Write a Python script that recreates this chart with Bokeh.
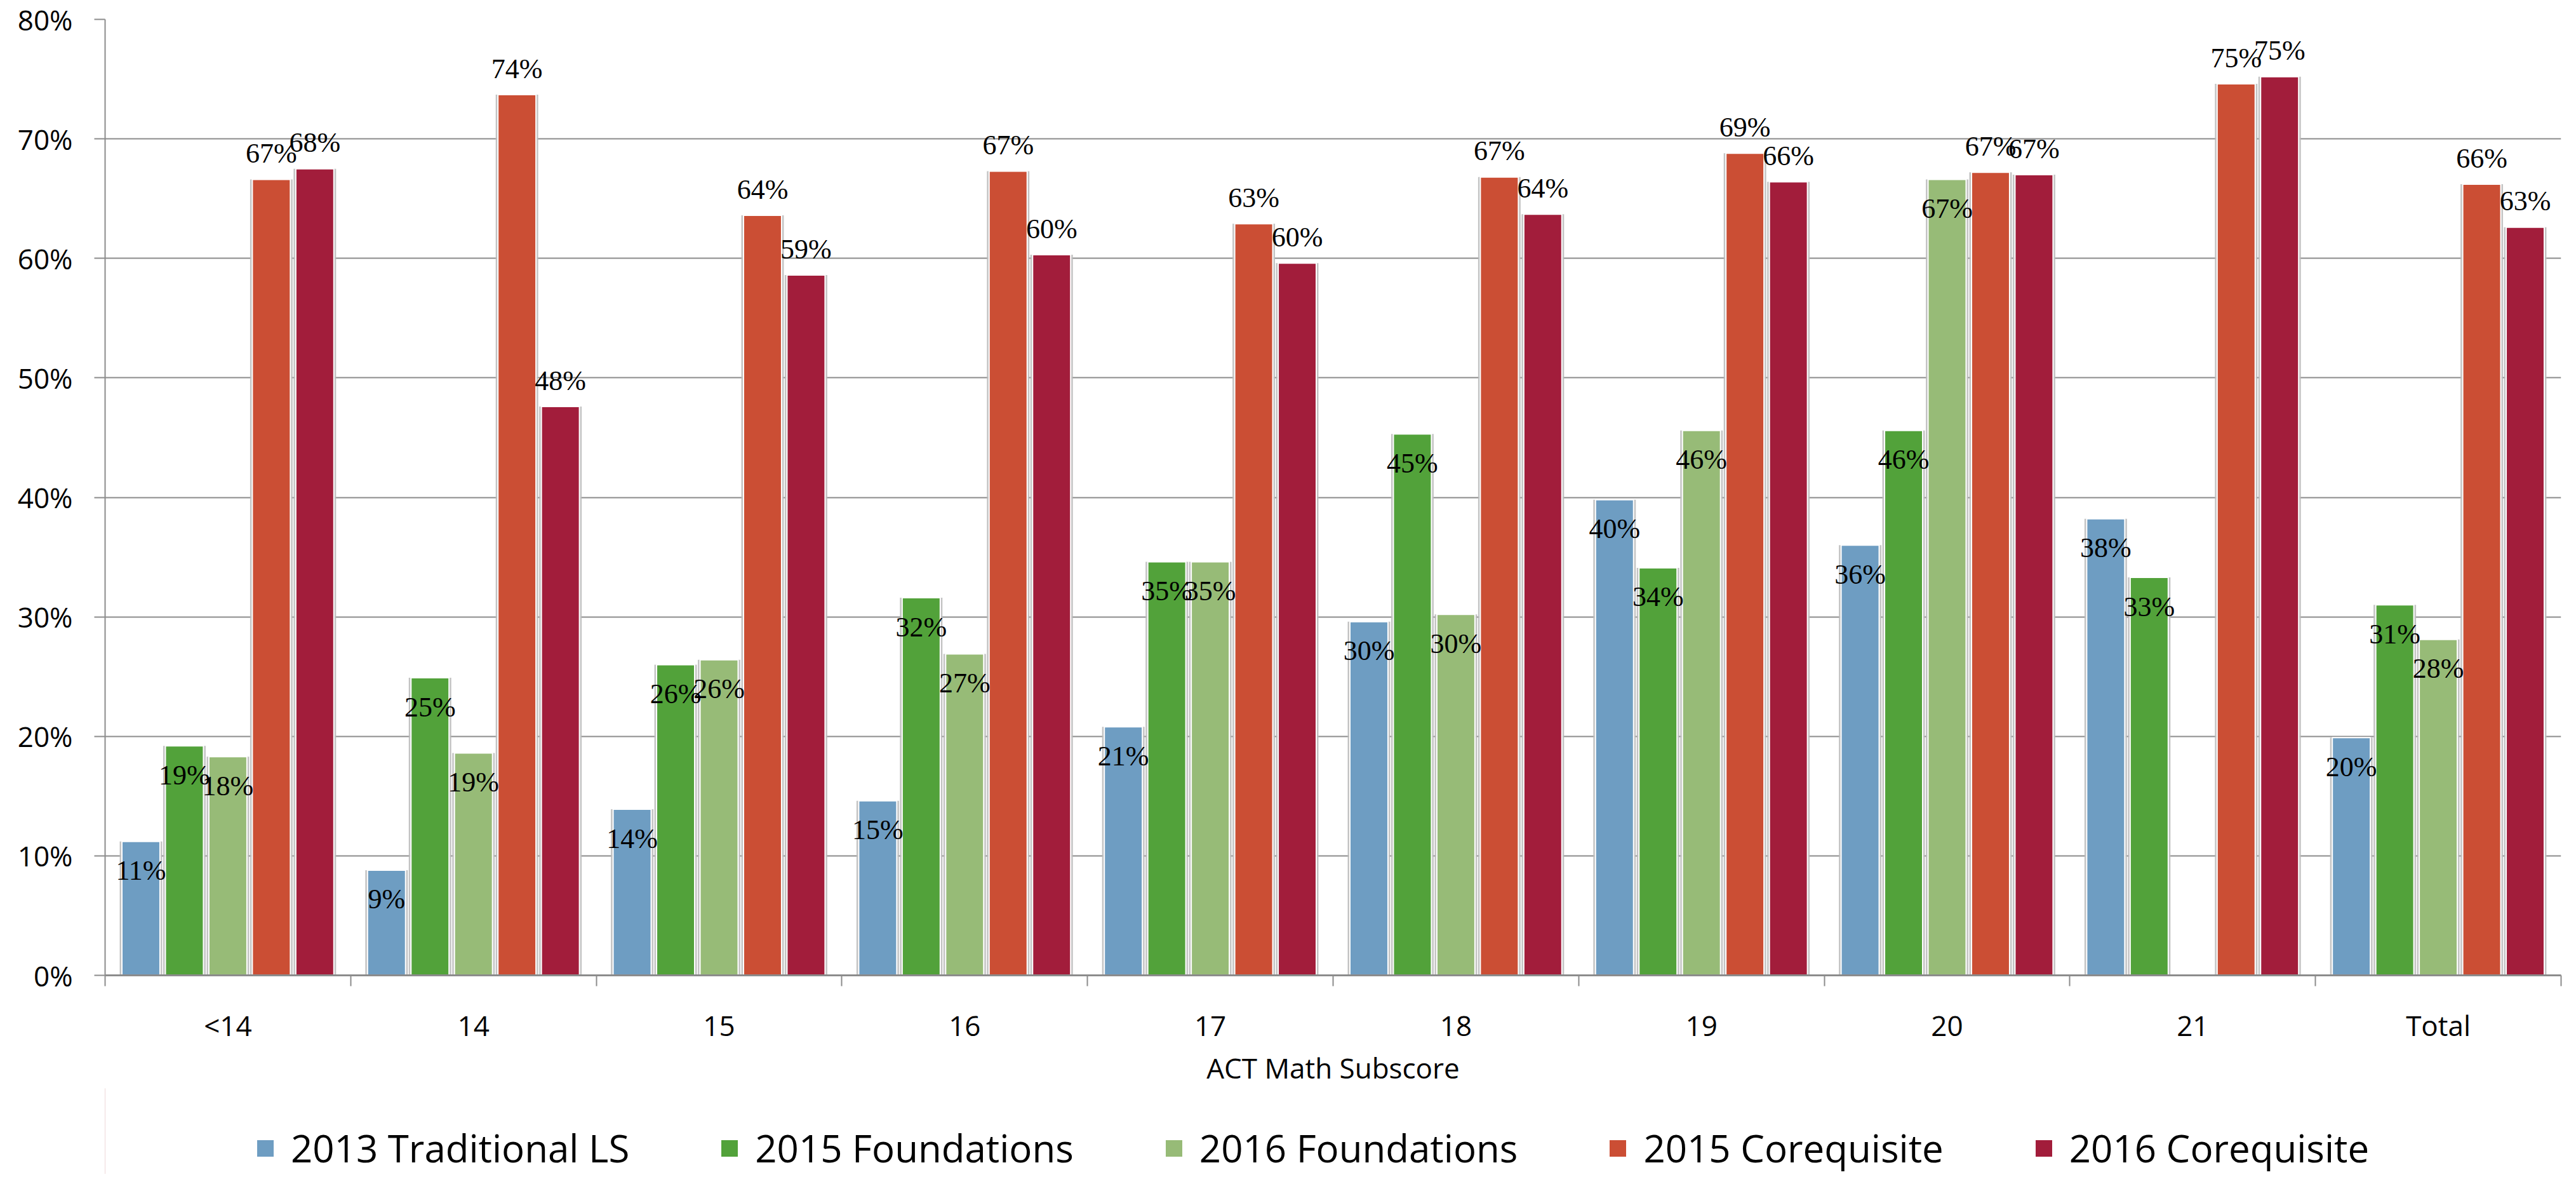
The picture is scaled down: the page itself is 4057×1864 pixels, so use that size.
from bokeh.plotting import figure
from bokeh.layouts import column
from bokeh.models import (ColumnDataSource, Range1d, FixedTicker, Legend,
                          LegendItem, LabelSet)
from bokeh.embed import file_html
from bokeh.resources import INLINE

# ---------------- data ----------------
categories = ["<14", "14", "15", "16", "17", "18", "19", "20", "21", "Total"]

trad_2013 = [11.2, 8.8, 13.9, 14.6, 20.8, 29.6, 39.8, 36.0, 38.2, 19.9]
found_2015 = [19.2, 24.9, 26.0, 31.6, 34.6, 45.3, 34.1, 45.6, 33.3, 31.0]
found_2016 = [18.3, 18.6, 26.4, 26.9, 34.6, 30.2, 45.6, 66.6, None, 28.1]
coreq_2015 = [66.6, 73.7, 63.6, 67.3, 62.9, 66.8, 68.8, 67.2, 74.6, 66.2]
coreq_2016 = [67.5, 47.6, 58.6, 60.3, 59.6, 63.7, 66.4, 67.0, 75.2, 62.6]

series_names = ["2013 Traditional LS", "2015 Foundations", "2016 Foundations",
                "2015 Corequisite", "2016 Corequisite"]
series_values = [trad_2013, found_2015, found_2016, coreq_2015, coreq_2016]

y_ticks = [0, 10, 20, 30, 40, 50, 60, 70, 80]

# ---------------- style ----------------
colors = ["#6e9dc2", "#52a23a", "#97bb77", "#cb4e34", "#a21d3b"]
FONT = "Open Sans"
GRID = "#8c8c8c"
pitch = 0.177        # distance between bar centres (category units)
bar_w = 0.155        # bar width (category units)
label_off = [-46, -46, -46, 41, 41]   # label offsets (px)

W = 4040
H_LEG = 135
H_MAIN = 1848 - H_LEG

p = figure(width=W, height=H_MAIN, output_backend="svg", toolbar_location=None,
           x_range=Range1d(0, len(categories)), y_range=Range1d(0, 80),
           min_border_left=165, min_border_right=7, min_border_top=30,
           min_border_bottom=H_MAIN - 1537)
p.outline_line_color = None
p.background_fill_color = "white"
p.border_fill_color = "white"

# axes
centers = [i + 0.5 for i in range(len(categories))]
bounds = [float(i) for i in range(len(categories) + 1)]
p.xaxis.ticker = FixedTicker(ticks=centers, minor_ticks=bounds)
p.xaxis.major_label_overrides = {c: lab for c, lab in zip(centers, categories)}
p.xaxis.major_tick_out = 0
p.xaxis.major_tick_in = 0
p.xaxis.minor_tick_out = 17
p.xaxis.minor_tick_in = 0
p.xaxis.minor_tick_line_color = GRID
p.xaxis.minor_tick_line_width = 2
p.xaxis.axis_line_color = GRID
p.xaxis.axis_line_width = 3
p.xaxis.major_label_standoff = 31
p.xaxis.major_label_text_font = FONT
p.xaxis.major_label_text_font_size = "44px"
p.xaxis.major_label_text_color = "black"
p.xaxis.axis_label = "ACT Math Subscore"
p.xaxis.axis_label_text_font = FONT
p.xaxis.axis_label_text_font_size = "44px"
p.xaxis.axis_label_text_font_style = "normal"
p.xaxis.axis_label_text_color = "black"
p.xaxis.axis_label_standoff = 4

p.yaxis.ticker = FixedTicker(ticks=y_ticks, minor_ticks=[])
p.yaxis.major_label_overrides = {t: f"{t}%" for t in y_ticks}
p.yaxis.major_tick_out = 17
p.yaxis.major_tick_in = 0
p.yaxis.major_tick_line_color = GRID
p.yaxis.major_tick_line_width = 2
p.yaxis.axis_line_color = GRID
p.yaxis.axis_line_width = 2
p.yaxis.major_label_standoff = 34
p.yaxis.major_label_text_font = FONT
p.yaxis.major_label_text_font_size = "44px"
p.yaxis.major_label_text_color = "black"

p.xgrid.visible = False
p.ygrid.ticker = FixedTicker(ticks=y_ticks)
p.ygrid.grid_line_color = GRID
p.ygrid.grid_line_width = 2

# bars + data labels
for j, (name, vals, col) in enumerate(zip(series_names, series_values, colors)):
    xs, ys, txt = [], [], []
    for i, v in enumerate(vals):
        if v is None:
            continue
        xs.append(i + 0.5 + (j - 2) * pitch)
        ys.append(v)
        txt.append(f"{round(v)}%")
    src = ColumnDataSource(dict(x=xs, top=ys, text=txt))
    # soft shadow
    p.vbar(x="x", top="top", bottom=0, width=bar_w + 7 / 387, source=src,
           fill_color="#bdbdbd", fill_alpha=0.9, line_color=None)
    p.vbar(x="x", top="top", bottom=0, width=bar_w, source=src,
           fill_color=col, line_color="white", line_width=2)
    p.add_layout(LabelSet(x="x", y="top", text="text", source=src,
                          y_offset=label_off[j], text_align="center",
                          text_baseline="middle", text_font=FONT,
                          text_font_size="44px", text_color="black"))

# ---------------- legend strip ----------------
leg = figure(width=W, height=H_LEG, output_backend="svg", toolbar_location=None,
             x_range=Range1d(0, 1), y_range=Range1d(0, 1), min_border=0,
             x_axis_location=None, y_axis_location=None)
leg.grid.visible = False
leg.outline_line_color = None
leg.background_fill_color = "white"
leg.border_fill_color = "white"

items = []
for name, col in zip(series_names, colors):
    # swatch-only renderer, kept outside the visible range of this strip
    r = leg.vbar(x=[-5], top=[1], bottom=[0], width=0.1, fill_color=col,
                 line_color="white", line_width=2)
    items.append(LegendItem(label=name, renderers=[r]))

legend = Legend(items=items, orientation="horizontal", location=(235, 0),
                glyph_width=35, glyph_height=35, label_standoff=23, spacing=140,
                padding=0, margin=0, border_line_color=None,
                background_fill_alpha=0, label_text_font=FONT,
                label_text_font_size="60px", label_text_color="black",
                label_text_baseline="middle")
leg.add_layout(legend, "center")

layout = column(p, leg, spacing=0)
open("out.html", "w").write(file_html(layout, INLINE))
